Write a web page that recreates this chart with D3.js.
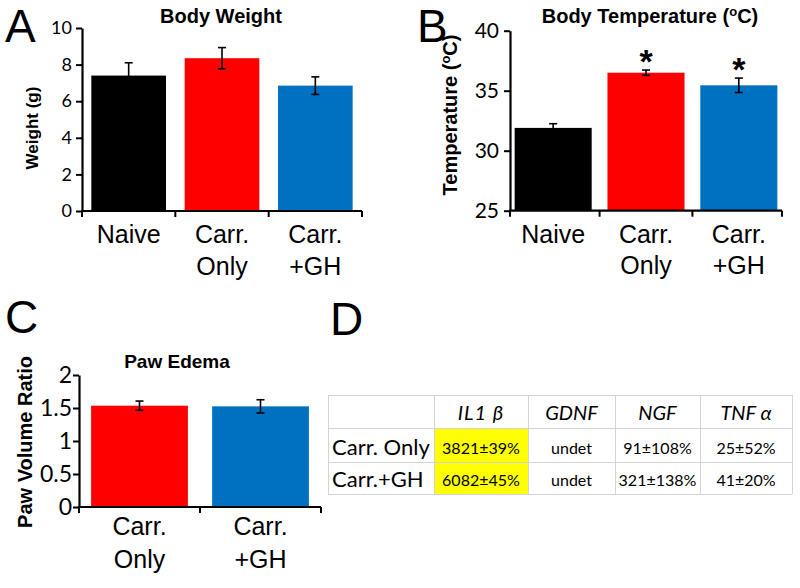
<!DOCTYPE html>
<html>
<head>
<meta charset="utf-8">
<script src="https://cdn.jsdelivr.net/npm/d3@7"></script>
<style>
  html, body { margin: 0; padding: 0; background: #fff; }
  svg { display: block; }
</style>
</head>
<body>
<svg id="fig" width="800" height="588"></svg>
<script>
// ---------------- DATA ----------------
const categoriesAB = ["Naive", "Carr. Only", "Carr. +GH"];
const categoryLinesAB = [["Naive"], ["Carr.", "Only"], ["Carr.", "+GH"]];
const barColors = ["#000000", "#FF0000", "#0070C0"];

const weightMeans = [7.4, 8.35, 6.85];
const weightErrs = [0.7, 0.58, 0.48];
const weightTicks = [0, 2, 4, 6, 8, 10];

const tempMeans = [31.9, 36.5, 35.45];
const tempErrs = [0.35, 0.22, 0.6];
const tempTicks = [25, 30, 35, 40];
const tempSignificant = [false, true, true];

const pawCategories = ["Carr. Only", "Carr. +GH"];
const pawCategoryLines = [["Carr.", "Only"], ["Carr.", "+GH"]];
const pawColors = ["#FF0000", "#0070C0"];
const pawMeans = [1.535, 1.525];
const pawErrs = [0.07, 0.1];
const pawTicks = [0, 0.5, 1, 1.5, 2];

const tableHeaders = ["IL1 \u03B2", "GDNF", "NGF", "TNF \u03B1"];
const tableRowLabels = ["Carr. Only", "Carr.+GH"];
const tableValues = [
  ["3821\u00B139%", "undet", "91\u00B1108%", "25\u00B152%"],
  ["6082\u00B145%", "undet", "321\u00B1138%", "41\u00B120%"]
];
const highlightColumn = 0;

// ---------------- DRAWING ----------------
const svg = d3.select("#fig");
const ARIAL = "'Liberation Sans', Arial, sans-serif";
const CALIBRI = "Lato, Carlito, 'Open Sans', sans-serif";

function panelLetter(txt, x, y) {
  svg.append("text").attr("x", x).attr("y", y)
    .attr("font-family", ARIAL).attr("font-size", 46).attr("fill", "#000").text(txt);
}

function barPanel(o) {
  const g = svg.append("g");
  const x = d3.scaleBand().domain(o.cats).range(o.xRange)
    .paddingInner(o.padIn).paddingOuter(o.padOut);
  const y = d3.scaleLinear().domain(o.yDomain).range(o.yRange);

  // bars
  g.selectAll("rect.bar").data(o.means).join("rect")
    .attr("class", "bar")
    .attr("x", (d, i) => x(o.cats[i]))
    .attr("width", x.bandwidth())
    .attr("y", d => y(d))
    .attr("height", d => y(o.yDomain[0]) - y(d))
    .attr("fill", (d, i) => o.colors[i]);

  // error bars
  const cap = 4;
  o.means.forEach((m, i) => {
    const cx = x(o.cats[i]) + x.bandwidth() / 2;
    const yt = y(m + o.errs[i]), yb = y(m - o.errs[i]);
    g.append("line").attr("x1", cx).attr("x2", cx).attr("y1", yt).attr("y2", yb)
      .attr("stroke", "#000").attr("stroke-width", 1.6);
    [yt, yb].forEach(yy => g.append("line").attr("x1", cx - cap).attr("x2", cx + cap)
      .attr("y1", yy).attr("y2", yy).attr("stroke", "#000").attr("stroke-width", 1.6));
    if (o.sig && o.sig[i]) {
      g.append("text").attr("x", cx).attr("y", yt + 3)
        .attr("text-anchor", "middle").attr("font-family", ARIAL)
        .attr("font-weight", "bold").attr("font-size", 34).text("*");
    }
  });

  // y axis
  const yAxis = d3.axisLeft(y).tickValues(o.ticks).tickSize(6).tickSizeOuter(0)
    .tickFormat(o.tickFormat || d3.format("d"));
  const ya = g.append("g").attr("transform", `translate(${o.xRange[0]},0)`).call(yAxis);
  ya.select(".domain").attr("stroke-width", 2.2);
  ya.selectAll(".tick line").attr("stroke-width", 2);
  ya.selectAll(".tick text").attr("font-family", CALIBRI).attr("font-size", o.tickFont)
    .attr("fill", "#000").attr("x", -o.tickGap);

  // x axis line + boundary ticks
  const y0 = y(o.yDomain[0]);
  g.append("line").attr("x1", o.xRange[0] - 1).attr("x2", o.xRange[1])
    .attr("y1", y0).attr("y2", y0).attr("stroke", "#000").attr("stroke-width", 2.2);
  const bounds = o.cats.map(c => x(c) - x.step() * x.paddingInner() / 2);
  bounds[0] = o.xRange[0];
  bounds.push(o.xRange[1]);
  g.selectAll("line.xt").data(bounds).join("line").attr("class", "xt")
    .attr("x1", d => d).attr("x2", d => d).attr("y1", y0).attr("y2", y0 + 6)
    .attr("stroke", "#000").attr("stroke-width", 2);

  // category labels
  o.catLines.forEach((lines, i) => {
    const cx = x(o.cats[i]) + x.bandwidth() / 2;
    lines.forEach((ln, j) => {
      g.append("text").attr("x", cx).attr("y", o.catY[j])
        .attr("text-anchor", "middle").attr("font-family", ARIAL)
        .attr("font-size", o.catFont).attr("fill", "#000").text(ln);
    });
  });

  // title
  const t = g.append("text").attr("x", o.titleX).attr("y", o.titleY)
    .attr("text-anchor", "middle").attr("font-family", ARIAL)
    .attr("font-weight", "bold").attr("font-size", o.titleFont);
  o.titleParts.forEach(p => {
    const ts = t.append("tspan").text(p.t);
    if (p.sup) ts.attr("font-size", o.titleFont * 0.65).attr("dy", -o.titleFont * 0.35);
    if (p.after) ts.attr("dy", o.titleFont * 0.35);
  });

  // y label
  const yl = g.append("text")
    .attr("transform", `translate(${o.ylX},${o.ylY}) rotate(-90)`)
    .attr("text-anchor", "middle").attr("font-family", ARIAL)
    .attr("font-weight", "bold").attr("font-size", o.ylFont);
  o.ylParts.forEach(p => {
    const ts = yl.append("tspan").text(p.t);
    if (p.sup) ts.attr("font-size", o.ylFont * 0.65).attr("dy", -o.ylFont * 0.35);
    if (p.after) ts.attr("dy", o.ylFont * 0.35);
  });
}

// Panel A
panelLetter("A", 5, 42);
barPanel({
  cats: categoriesAB, catLines: categoryLinesAB, colors: barColors,
  means: weightMeans, errs: weightErrs,
  xRange: [82, 362], padIn: 0.2, padOut: 0.1,
  yDomain: [0, 10], yRange: [211, 28], ticks: weightTicks,
  tickFont: 18, tickGap: 10,
  catY: [243, 275], catFont: 25,
  titleX: 221, titleY: 23, titleFont: 20, titleParts: [{t: "Body Weight"}],
  ylX: 38, ylY: 128, ylFont: 17, ylParts: [{t: "Weight (g)"}]
});

// Panel B
panelLetter("B", 417, 42);
barPanel({
  cats: categoriesAB, catLines: categoryLinesAB, colors: barColors,
  means: tempMeans, errs: tempErrs, sig: tempSignificant,
  xRange: [510, 782], padIn: 0.17, padOut: 0.05,
  yDomain: [25, 40], yRange: [210.7, 30.7], ticks: tempTicks,
  tickFont: 21, tickGap: 11,
  catY: [243, 274], catFont: 25,
  titleX: 650, titleY: 23, titleFont: 20,
  titleParts: [{t: "Body Temperature ("}, {t: "o", sup: true}, {t: "C)", after: true}],
  ylX: 457, ylY: 115, ylFont: 20,
  ylParts: [{t: "Temperature ("}, {t: "o", sup: true}, {t: "C)", after: true}]
});

// Panel C
panelLetter("C", 5, 333);
barPanel({
  cats: pawCategories, catLines: pawCategoryLines, colors: pawColors,
  means: pawMeans, errs: pawErrs,
  xRange: [79, 321], padIn: 0.2, padOut: 0.1,
  yDomain: [0, 2], yRange: [507, 375], ticks: pawTicks,
  tickFormat: d3.format("~g"),
  tickFont: 23, tickGap: 7,
  catY: [535, 568], catFont: 25,
  titleX: 177, titleY: 368, titleFont: 19, titleParts: [{t: "Paw Edema"}],
  ylX: 32, ylY: 442, ylFont: 20, ylParts: [{t: "Paw Volume Ratio"}]
});

// Panel D (table)
panelLetter("D", 330, 335);
(function () {
  const colEdges = [328, 434, 528, 615, 700, 792];
  const rowEdges = [395, 428, 462, 494];
  const g = svg.append("g");
  // highlight
  g.append("rect")
    .attr("x", colEdges[highlightColumn + 1]).attr("y", rowEdges[1])
    .attr("width", colEdges[highlightColumn + 2] - colEdges[highlightColumn + 1])
    .attr("height", rowEdges[3] - rowEdges[1]).attr("fill", "#FFFF00");
  // grid
  rowEdges.forEach(yv => g.append("line").attr("x1", colEdges[0]).attr("x2", colEdges[5])
    .attr("y1", yv + 0.5).attr("y2", yv + 0.5).attr("stroke", "#d4d4d4").attr("stroke-width", 1));
  colEdges.forEach(xv => g.append("line").attr("x1", xv + 0.5).attr("x2", xv + 0.5)
    .attr("y1", rowEdges[0]).attr("y2", rowEdges[3]).attr("stroke", "#d4d4d4").attr("stroke-width", 1));
  // headers
  tableHeaders.forEach((h, i) => {
    g.append("text").attr("x", (colEdges[i + 1] + colEdges[i + 2]) / 2).attr("y", 420)
      .attr("text-anchor", "middle").attr("font-family", CALIBRI + ", 'DejaVu Sans'")
      .attr("font-style", "italic").attr("font-size", 20)
      .attr("letter-spacing", i === 0 ? 1 : 0).text(h);
  });
  const rowY = [455, 487];
  tableRowLabels.forEach((r, i) => {
    g.append("text").attr("x", 332).attr("y", rowY[i])
      .attr("font-family", CALIBRI).attr("font-size", 22).text(r);
    tableValues[i].forEach((v, j) => {
      g.append("text").attr("x", (colEdges[j + 1] + colEdges[j + 2]) / 2).attr("y", rowY[i] - 1)
        .attr("text-anchor", "middle").attr("font-family", CALIBRI)
        .attr("font-size", 16).text(v);
    });
  });
})();
</script>
</body>
</html>
